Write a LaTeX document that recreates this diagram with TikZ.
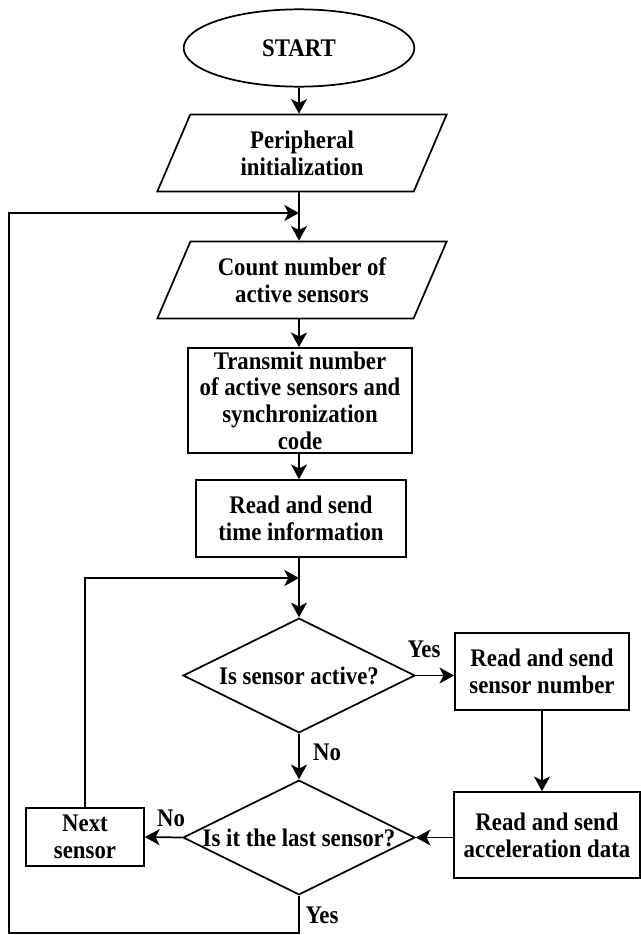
\documentclass[tikz,border=0pt]{standalone}
\usepackage{fontspec}
\setmainfont{Liberation Serif}[FakeStretch=0.9]
\usetikzlibrary{positioning,arrows.meta,shapes.geometric}

\begin{document}
\begin{tikzpicture}[
            x=0.75pt, y=-0.75pt,
            font=\bfseries\fontsize{19}{20}\selectfont,
            line width=1.3pt,
            arr/.style={-{Stealth[length=11pt,width=12pt,inset=3pt]}},
            term/.style={
                draw=black, ellipse, minimum width=173pt, minimum height=58pt, inner sep=0pt
            },
            io/.style={
                draw=black, trapezium, trapezium left angle=53.5, trapezium right angle=126.5,
                trapezium stretches body, minimum width=217pt, minimum height=57.75pt,
                inner sep=0pt, align=center
            },
            proc/.style={
                draw=black, rectangle, inner sep=0pt, align=center
            },
            dec/.style={
                draw=black, diamond, aspect=2, minimum width=174pt, minimum height=86pt, inner sep=0pt
            },
            lbl/.style={inner sep=1pt}
        ]
            \useasboundingbox (0,0) rectangle (640,935);

            % MAIN COLUMN
            \node[term] (start) at (299,48) {START};
            \node[io] (init) at (302,153) {Peripheral\\initialization};
            \node[io] (count) at (302,280) {Count number of\\active sensors};
            \node[proc, minimum width=168pt, minimum height=78.75pt] (tx) at (300,400.5)
                {Transmit number\\of active sensors and\\synchronization\\code};
            \node[proc, minimum width=157.5pt, minimum height=57.75pt] (rtime) at (301,518.5)
                {Read and send\\time information};
            \node[dec] (d1) at (299,675.5) {Is sensor active?};
            \node[dec] (d2) at (299,837.5) {Is it the last sensor?};

            % SIDE BOXES
            \node[proc, minimum width=130.5pt, minimum height=57.75pt] (snum) at (542,671.5)
                {Read and send\\sensor number};
            \node[proc, minimum width=139pt, minimum height=64.5pt] (acc) at (547,835)
                {Read and send\\acceleration data};
            \node[proc, minimum width=88.5pt, minimum height=43.5pt] (next) at (85,837)
                {Next\\sensor};

            % junctions of the two loops
            \coordinate (j1) at (299,213);
            \coordinate (j2) at (299,578);
            \coordinate (corner) at (9,933);

            % ARROWS
            \draw[arr] (start.south) -- (start.south |- init.north);
            \draw[arr] (start.south |- init.south) -- (start.south |- count.north);
            \draw[arr] (start.south |- count.south) -- (start.south |- tx.north);
            \draw[arr] (start.south |- tx.south) -- (start.south |- rtime.north);
            \draw[arr] (start.south |- rtime.south) -- (d1.north);
            \draw[arr] (d1.east) -- (d1.east -| snum.west);
            \draw[arr] (snum.south) -- (snum.south |- acc.north);
            \draw[arr] (acc.west |- d2.east) -- (d2.east);
            \draw[arr] (d1.south) -- (d2.north);
            \draw[arr] (d2.west) -- (next.east);
            \draw[arr] (next.north) |- (j2);
            \draw[arr] (d2.south) |- (corner) |- (j1);

            % LABELS
            \node[lbl] (yes1) at (424,649) {Yes};
            \node[lbl] (no1) at (327,752) {No};
            \node[lbl] (no2) at (171,818) {No};
            \node[lbl] (yes2) at (322,915) {Yes};

        \end{tikzpicture}
\end{document}
